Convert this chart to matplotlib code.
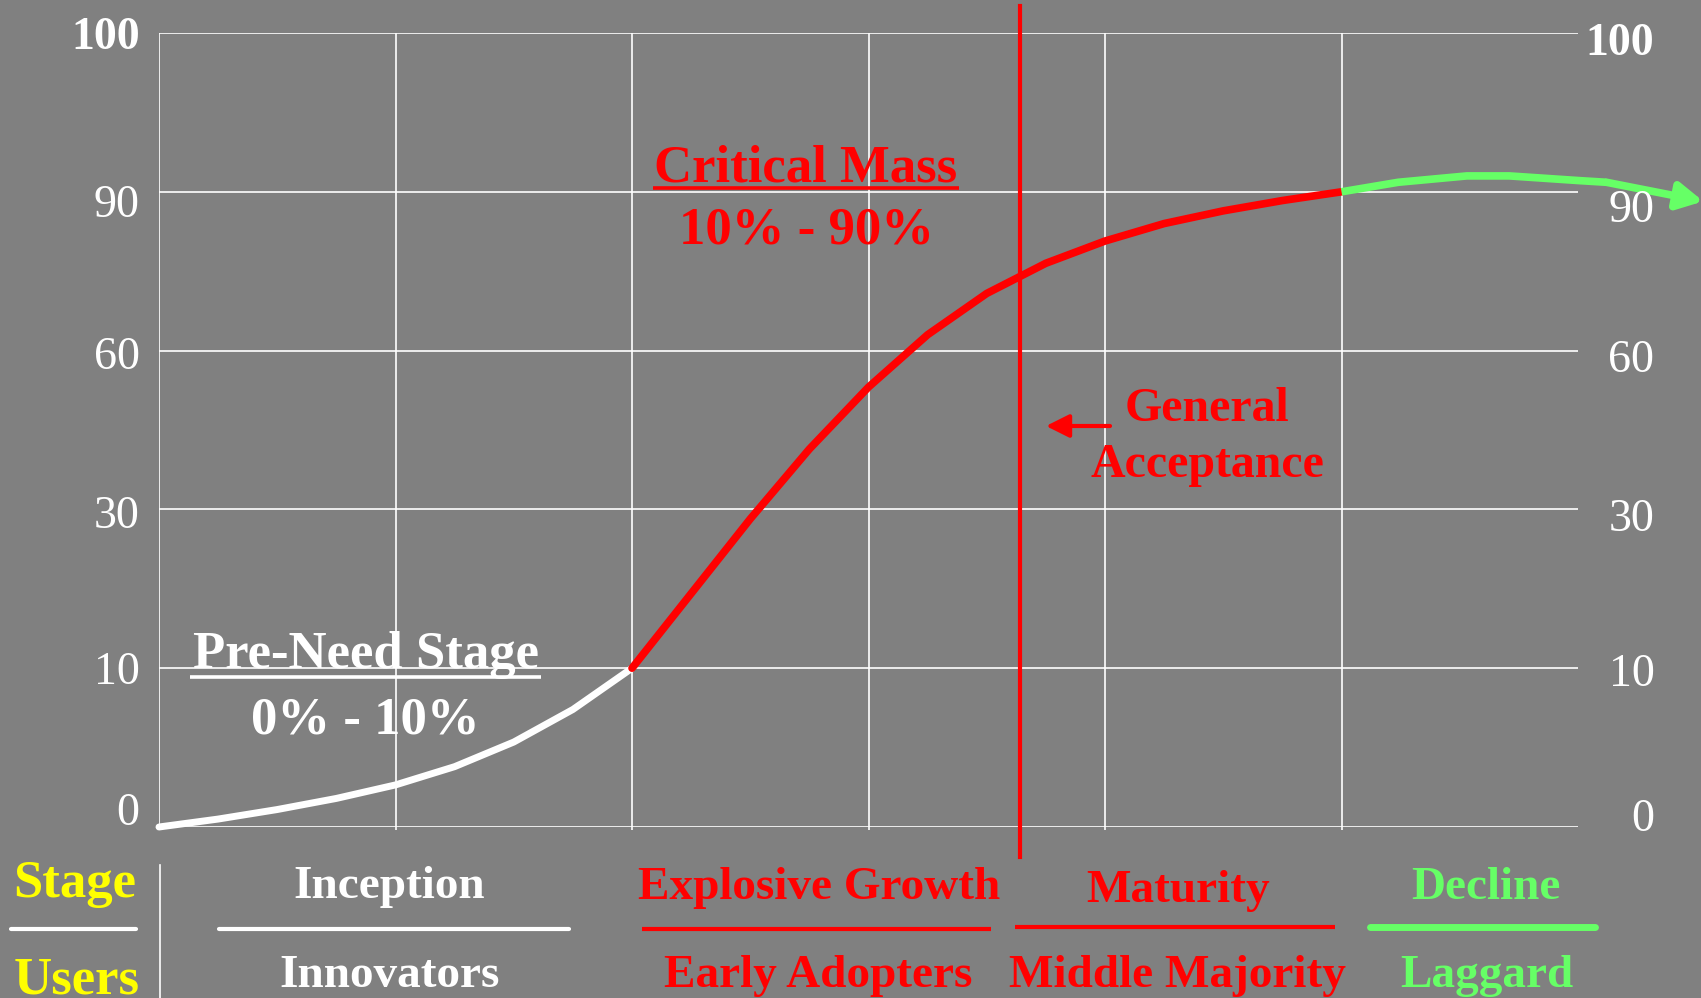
import numpy as np
import matplotlib.pyplot as plt
from matplotlib.lines import Line2D
from matplotlib.transforms import ScaledTranslation

plt.rcParams['font.family'] = ['Liberation Serif', 'DejaVu Serif']

W, H = 1701, 998
BG = '#808080'
RED = '#ff0000'
GREEN = '#66ff66'
YELLOW = '#ffff00'

# y axis: percent levels, drawn evenly spaced
y_levels = [0, 10, 30, 60, 90, 100]
y_labels = ['0', '10', '30', '60', '90', '100']

# adoption curve (x = time step, y = percent)
pre_x = [0, 0.25, 0.5, 0.75, 1.0, 1.25, 1.5, 1.75, 2.0]
pre_y = [0, 0.5, 1.1, 1.8, 2.65, 3.8, 5.35, 7.4, 10]

growth_x = [2.0, 2.25, 2.5, 2.75, 3.0, 3.25, 3.5, 3.75, 4.0, 4.25, 4.5, 4.75, 5.0]
growth_y = [10, 19.4, 28.8, 41.4, 53.1, 63.0, 70.8, 76.5, 80.7, 84.0, 86.4, 88.35, 90]

decline_x = [5.0, 5.24, 5.53, 5.71, 6.01, 6.12, 6.53]
decline_y = [90, 90.6, 91.0, 91.0, 90.7, 90.6, 88.2]

accept_x = 3.64

stages = ['Inception', 'Explosive Growth', 'Maturity', 'Decline']
users = ['Innovators', 'Early Adopters', 'Middle Majority', 'Laggard']


def fwd(v):
    return np.interp(v, y_levels, np.arange(len(y_levels)))


def inv(p):
    return np.interp(p, np.arange(len(y_levels)), y_levels)


def fx(px):
    return px / W


def fy(py):
    return 1 - py / H


fig = plt.figure(figsize=(W / 100, H / 100), dpi=100, facecolor=BG)
ax = fig.add_axes([fx(159), fy(827), (1578 - 159) / W, (827 - 33) / H])
ax.set_facecolor(BG)
ax.set_yscale('function', functions=(fwd, inv))
ax.set_xlim(0, 6)
ax.set_ylim(0, 100)
ax.set_xticks(range(6))
ax.set_xticklabels([])
ax.set_yticks(y_levels, labels=y_labels)
ax.grid(color='white', lw=1.2)
for s in ax.spines.values():
    s.set_visible(False)
ax.tick_params(axis='x', colors='white', length=2.5, width=1.2)
ax.tick_params(axis='y', length=0, pad=14, labelsize=33, labelcolor='white')

ax2 = ax.twinx()
ax2.set_yscale('function', functions=(fwd, inv))
ax2.set_ylim(0, 100)
ax2.set_yticks(y_levels, labels=y_labels)
for s in ax2.spines.values():
    s.set_visible(False)
ax2.tick_params(axis='y', length=0, pad=55, labelsize=33, labelcolor='white')

# small vertical nudges of tick labels (pixels, + is up)
left_dy = [18, 0, -2, -2, -9, 0]
right_dy = [12, -2, -5, -5, -14, -6]
for lbl, dy in zip(ax.get_yticklabels(), left_dy):
    lbl.set_transform(lbl.get_transform() + ScaledTranslation(0, dy / 100, fig.dpi_scale_trans))
for lbl, dy in zip(ax2.get_yticklabels(), right_dy):
    lbl.set_ha('right')
    lbl.set_transform(lbl.get_transform() + ScaledTranslation(0, dy / 100, fig.dpi_scale_trans))
ax.get_yticklabels()[-1].set_fontweight('bold')
ax2.get_yticklabels()[-1].set_fontweight('bold')

# curve
ax.plot(pre_x, pre_y, color='white', lw=5, solid_capstyle='round',
        solid_joinstyle='round', zorder=3, clip_on=False)
ax.plot(growth_x, growth_y, color=RED, lw=5.5, solid_capstyle='round',
        solid_joinstyle='round', zorder=4)
ax.plot(decline_x[:-1], decline_y[:-1], color=GREEN, lw=5.5, solid_capstyle='butt',
        solid_joinstyle='round', zorder=4, clip_on=False)
ax.annotate('', xy=(decline_x[-1], decline_y[-1]), xytext=(decline_x[-2], decline_y[-2]),
            arrowprops=dict(arrowstyle='-|>,head_length=0.75,head_width=0.4', color=GREEN,
                            lw=5.5, mutation_scale=20, shrinkA=0, shrinkB=0),
            annotation_clip=False, zorder=4)

# general acceptance marker
ax.axvline(accept_x, ymin=-0.038, ymax=1.034, color=RED, lw=3, clip_on=False, zorder=5)
fig.add_artist(plt.Annotation('', xy=(fx(1046), fy(426)), xytext=(fx(1110), fy(426)),
                              xycoords='figure fraction', textcoords='figure fraction',
                              arrowprops=dict(arrowstyle='-|>,head_length=0.7,head_width=0.35',
                                              color=RED, lw=3, mutation_scale=20,
                                              shrinkA=0, shrinkB=0)))


def label(px, py, s, color, size):
    fig.text(fx(px), fy(py), s, ha='center', va='baseline', color=color,
             fontsize=size, fontweight='bold')


def rule(x0, x1, py, color, lw, cap='butt'):
    fig.add_artist(Line2D([fx(x0), fx(x1)], [fy(py), fy(py)], color=color, lw=lw,
                          solid_capstyle=cap, transform=fig.transFigure))


label(806, 181, 'Critical Mass', RED, 38)
rule(653, 959, 188, RED, 2.6)
label(806, 244, '10% - 90%', RED, 38)

label(366, 668, 'Pre-Need Stage', 'white', 38)
rule(190, 541, 677, 'white', 2.6)
label(365, 733, '0% - 10%', 'white', 38)

label(1207, 421, 'General', RED, 34.5)
label(1207, 477, 'Acceptance', RED, 34.5)

# bottom legend rows
label(75, 897, 'Stage', YELLOW, 38)
label(77, 993, 'Users', YELLOW, 38)
rule(11, 136, 929, 'white', 3, 'round')
fig.add_artist(Line2D([fx(160), fx(160)], [fy(865), fy(998)], color='white', lw=1.2,
                      transform=fig.transFigure))

stage_cx = [389, 819, 1178, 1486]
stage_base = [898, 899, 902, 899]
user_cx = [390, 818, 1177, 1487]
row_colors = ['white', RED, RED, GREEN]
rule_spans = [(219, 569, 929), (642, 991, 929), (1015, 1335, 927), (1370, 1595, 927)]
rule_lw = [3, 3, 3, 5]
for i in range(4):
    label(stage_cx[i], stage_base[i], stages[i], row_colors[i], 34)
    label(user_cx[i], 987, users[i], row_colors[i], 34)
    x0, x1, yy = rule_spans[i]
    rule(x0, x1, yy, row_colors[i], rule_lw[i], 'round' if i in (0, 3) else 'butt')

fig.savefig('out.png', dpi=100, facecolor=BG)
